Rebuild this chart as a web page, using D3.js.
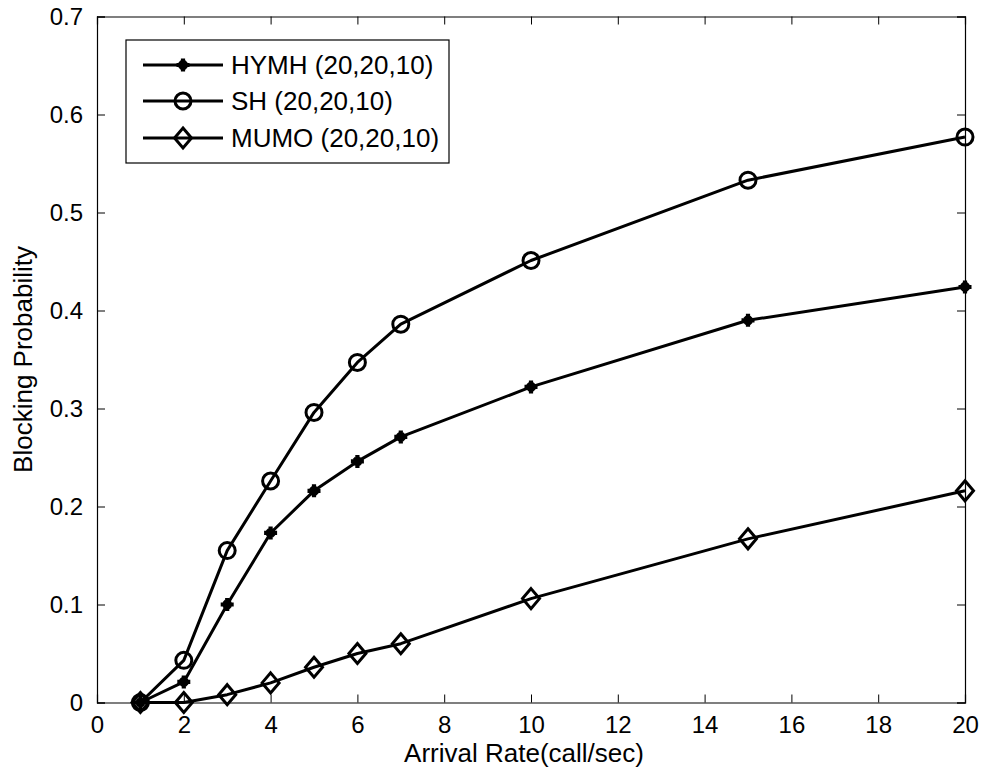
<!DOCTYPE html>
<html>
<head>
<meta charset="utf-8">
<script src="https://cdn.jsdelivr.net/npm/d3@7"></script>
<style>
  html, body { margin: 0; padding: 0; background: #fff; }
  svg { display: block; font-family: "Liberation Sans", Arial, sans-serif; }
</style>
</head>
<body>
<svg id="chart" width="984" height="776"></svg>
<script>
const arrivalRates = [1, 2, 3, 4, 5, 6, 7, 10, 15, 20];
const hymh = [0, 0.021, 0.100, 0.173, 0.216, 0.246, 0.271, 0.322, 0.390, 0.424];
const sh   = [0, 0.043, 0.155, 0.226, 0.296, 0.347, 0.386, 0.451, 0.533, 0.577];
const mumo = [0, 0, 0.008, 0.020, 0.036, 0.050, 0.060, 0.106, 0.167, 0.216];
const seriesNames = ["HYMH (20,20,10)", "SH (20,20,10)", "MUMO (20,20,10)"];
const xTicks = [0, 2, 4, 6, 8, 10, 12, 14, 16, 18, 20];
const yTicks = [0, 0.1, 0.2, 0.3, 0.4, 0.5, 0.6, 0.7];

const svg = d3.select("#chart");
const margin = { left: 97, right: 19, top: 16.5, bottom: 73.5 };
const W = 984, H = 776;
const x = d3.scaleLinear().domain([0, 20]).range([margin.left, W - margin.right]);
const y = d3.scaleLinear().domain([0, 0.7]).range([H - margin.bottom, margin.top]);

const series = [
  { name: seriesNames[0], values: hymh, marker: "plus" },
  { name: seriesNames[1], values: sh, marker: "circle" },
  { name: seriesNames[2], values: mumo, marker: "diamond" }
];

const LW = 3;

// axes (box with inward ticks on all sides)
const tickLen = 8;
const gB = svg.append("g").attr("transform", `translate(0,${y(0)})`)
  .call(d3.axisBottom(x).tickValues(xTicks).tickSize(-tickLen).tickPadding(13).tickFormat(d3.format("d")));
const gT = svg.append("g").attr("transform", `translate(0,${y(0.7)})`)
  .call(d3.axisTop(x).tickValues(xTicks).tickSize(-tickLen).tickFormat(""));
const gL = svg.append("g").attr("transform", `translate(${x(0)},0)`)
  .call(d3.axisLeft(y).tickValues(yTicks).tickSize(-tickLen).tickPadding(14).tickFormat(d => d === 0 ? "0" : d3.format(".1f")(d)));
const gR = svg.append("g").attr("transform", `translate(${x(20)},0)`)
  .call(d3.axisRight(y).tickValues(yTicks).tickSize(-tickLen).tickFormat(""));
[gB, gT, gL, gR].forEach(g => {
  g.select(".domain").attr("stroke", "#000").attr("stroke-width", 1.2);
  g.selectAll(".tick line").attr("stroke", "#000").attr("stroke-width", 1);
  g.selectAll(".tick text").attr("fill", "#000").attr("font-size", 24)
    .attr("font-family", "'Liberation Sans', Arial, sans-serif");
});
gB.selectAll(".tick text").attr("dy", "0.72em");

// axis labels
svg.append("text").attr("x", 524).attr("y", 762).attr("text-anchor", "middle")
  .attr("font-size", 26).attr("fill", "#000").text("Arrival Rate(call/sec)");
svg.append("text").attr("transform", `translate(32,${(y(0) + y(0.7)) / 2}) rotate(-90)`)
  .attr("text-anchor", "middle").attr("font-size", 26).attr("fill", "#000").text("Blocking Probability");

// markers
function drawMarker(g, type, cx, cy) {
  if (type === "circle") {
    g.append("circle").attr("cx", cx).attr("cy", cy).attr("r", 8)
      .attr("fill", "none").attr("stroke", "#000").attr("stroke-width", LW);
  } else if (type === "diamond") {
    g.append("path").attr("d", `M${cx},${cy - 10}L${cx + 8.5},${cy}L${cx},${cy + 10}L${cx - 8.5},${cy}Z`)
      .attr("fill", "none").attr("stroke", "#000").attr("stroke-width", LW);
  } else {
    g.append("path").attr("d", `M${cx - 6.5},${cy}L${cx + 6.5},${cy}M${cx},${cy - 6.5}L${cx},${cy + 6.5}`)
      .attr("stroke", "#000").attr("stroke-width", 4.2);
    g.append("path").attr("d", `M${cx - 3.5},${cy - 3.5}L${cx + 3.5},${cy + 3.5}M${cx - 3.5},${cy + 3.5}L${cx + 3.5},${cy - 3.5}`)
      .attr("stroke", "#000").attr("stroke-width", 3.2);
  }
}

const line = d3.line().x(d => x(d[0])).y(d => y(d[1]));
series.forEach(s => {
  const pts = arrivalRates.map((r, i) => [r, s.values[i]]);
  const g = svg.append("g");
  g.append("path").datum(pts).attr("d", line).attr("fill", "none")
    .attr("stroke", "#000").attr("stroke-width", LW).attr("stroke-linejoin", "round");
  pts.forEach(p => drawMarker(g, s.marker, x(p[0]), y(p[1])));
});

// legend
const lg = svg.append("g");
lg.append("rect").attr("x", 126).attr("y", 40).attr("width", 323).attr("height", 123)
  .attr("fill", "#fff").attr("stroke", "#000").attr("stroke-width", 1.2);
const rowY = [65, 101, 138];
series.forEach((s, i) => {
  const ry = rowY[i];
  lg.append("line").attr("x1", 143).attr("x2", 223).attr("y1", ry).attr("y2", ry)
    .attr("stroke", "#000").attr("stroke-width", LW);
  drawMarker(lg, s.marker, 183, ry);
  lg.append("text").attr("x", 231).attr("y", ry + 9.3).attr("font-size", 26)
    .attr("fill", "#000").text(s.name);
});
</script>
</body>
</html>
